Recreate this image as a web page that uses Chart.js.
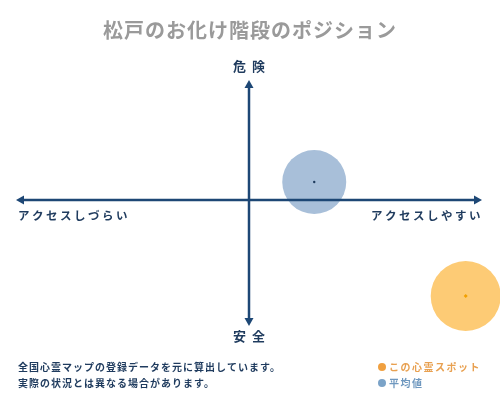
<!DOCTYPE html>
<html><head><meta charset="utf-8">
<script src="https://cdn.jsdelivr.net/npm/chart.js@4/dist/chart.umd.min.js"></script>
<style>html,body{margin:0;padding:0;background:#fff;}#wrap{width:500px;height:400px;position:relative;}</style>
</head><body><div id="wrap"><canvas id="c" width="500" height="400"></canvas></div>
<script>
const titleText = '松戸のお化け階段のポジション';
const categories = ['この心霊スポット', '平均値'];
const xValues = [93, 28];
const yValues = [-80, 15];
const xAxisLabels = ['アクセスしづらい', 'アクセスしやすい'];
const yAxisLabels = ['危険', '安全'];
const notes = ['全国心霊マップの登録データを元に算出しています。', '実際の状況とは異なる場合があります。'];

const NAVY = '#1d4775';
const TEXT = '#1f3b5e';

const overlay = {
  id: 'overlay',
  afterDatasetsDraw(chart) {
    const ctx = chart.ctx;
    const xs = chart.scales.x, ys = chart.scales.y;
    const a = chart.chartArea;
    const cx = xs.getPixelForValue(0), cy = ys.getPixelForValue(0);
    ctx.save();
    ctx.strokeStyle = NAVY; ctx.fillStyle = NAVY; ctx.lineWidth = 2.5;
    ctx.beginPath(); ctx.moveTo(a.left + 6, cy); ctx.lineTo(a.right - 6, cy); ctx.stroke();
    ctx.beginPath(); ctx.moveTo(cx, a.top + 6); ctx.lineTo(cx, a.bottom + 0); ctx.stroke();
    const head = (x, y, dx, dy) => {
      const L = 8, W = 4.5;
      const px = -dy, py = dx;
      ctx.beginPath();
      ctx.moveTo(x, y);
      ctx.lineTo(x - dx * L + px * W, y - dy * L + py * W);
      ctx.lineTo(x - dx * L - px * W, y - dy * L - py * W);
      ctx.closePath(); ctx.fill();
    };
    head(a.right, cy, 1, 0);
    head(a.left, cy, -1, 0);
    head(cx, a.top, 0, -1);
    head(cx, a.bottom + 6, 0, 1);
    ctx.fillStyle = TEXT;
    ctx.textBaseline = 'middle';
    ctx.font = 'bold 13px "Noto Sans CJK JP"';
    ctx.letterSpacing = '6px';
    ctx.textAlign = 'center';
    ctx.fillText(yAxisLabels[0], cx + 3, a.top - 14);
    ctx.fillText(yAxisLabels[1], cx + 3, a.bottom + 16);
    ctx.font = 'bold 11.5px "Noto Sans CJK JP"';
    ctx.letterSpacing = '2.5px';
    ctx.textAlign = 'left';
    ctx.fillText(xAxisLabels[0], a.left + 2, cy + 16);
    ctx.textAlign = 'right';
    ctx.fillText(xAxisLabels[1], a.right + 1, cy + 16);
    ctx.fillStyle = '#9a9a9a';
    ctx.font = 'bold 20px "Noto Sans CJK JP"';
    ctx.letterSpacing = '1px';
    ctx.textAlign = 'center';
    ctx.fillText(titleText, 250, 30);
    ctx.fillStyle = TEXT;
    ctx.font = 'bold 10px "Noto Sans CJK JP"';
    ctx.letterSpacing = '1px';
    ctx.textAlign = 'left';
    ctx.fillText(notes[0], 18, 367);
    ctx.fillText(notes[1], 18, 383);
    const legendColors = ['#f0a040', '#7ba3c8'];
    const legendText = ['#e8a050', '#6f98bf'];
    categories.forEach((c, i) => {
      const y = 367 + i * 16;
      ctx.fillStyle = legendColors[i];
      ctx.beginPath(); ctx.arc(382, y, 4, 0, Math.PI * 2); ctx.fill();
      ctx.fillStyle = legendText[i];
      ctx.font = 'bold 10px "Noto Sans CJK JP"';
      ctx.letterSpacing = '1.5px';
      ctx.fillText(c, 389, y);
    });
    ctx.restore();
  }
};

new Chart(document.getElementById('c'), {
  type: 'bubble',
  data: {
    datasets: [
      { label: categories[1], data: [{ x: xValues[1], y: yValues[1] }], radius: 32,
        backgroundColor: 'rgba(168,191,217,1)', borderWidth: 0, order: 3 },
      { label: categories[0], data: [{ x: xValues[0], y: yValues[0] }], radius: 35,
        backgroundColor: 'rgba(253,203,117,1)', borderWidth: 0, order: 2 },
      { type: 'scatter', label: 'c1', data: [{ x: xValues[1], y: yValues[1] }], pointRadius: 1.2,
        backgroundColor: '#1f3b5e', borderWidth: 0, order: 1 },
      { type: 'scatter', label: 'c0', data: [{ x: xValues[0], y: yValues[0] }], pointRadius: 2,
        pointStyle: 'rectRot', backgroundColor: '#f2a000', borderWidth: 0, order: 1 }
    ]
  },
  options: {
    responsive: false, animation: false, devicePixelRatio: 1,
    layout: { autoPadding: false, padding: { left: 16, right: 18, top: 80, bottom: 80 } },
    scales: {
      x: { type: 'linear', min: -100, max: 100, display: false },
      y: { type: 'linear', min: -100, max: 100, display: false }
    },
    plugins: { legend: { display: false }, tooltip: { enabled: false }, title: { display: false } },
    clip: false
  },
  plugins: [overlay]
});
</script></body></html>
